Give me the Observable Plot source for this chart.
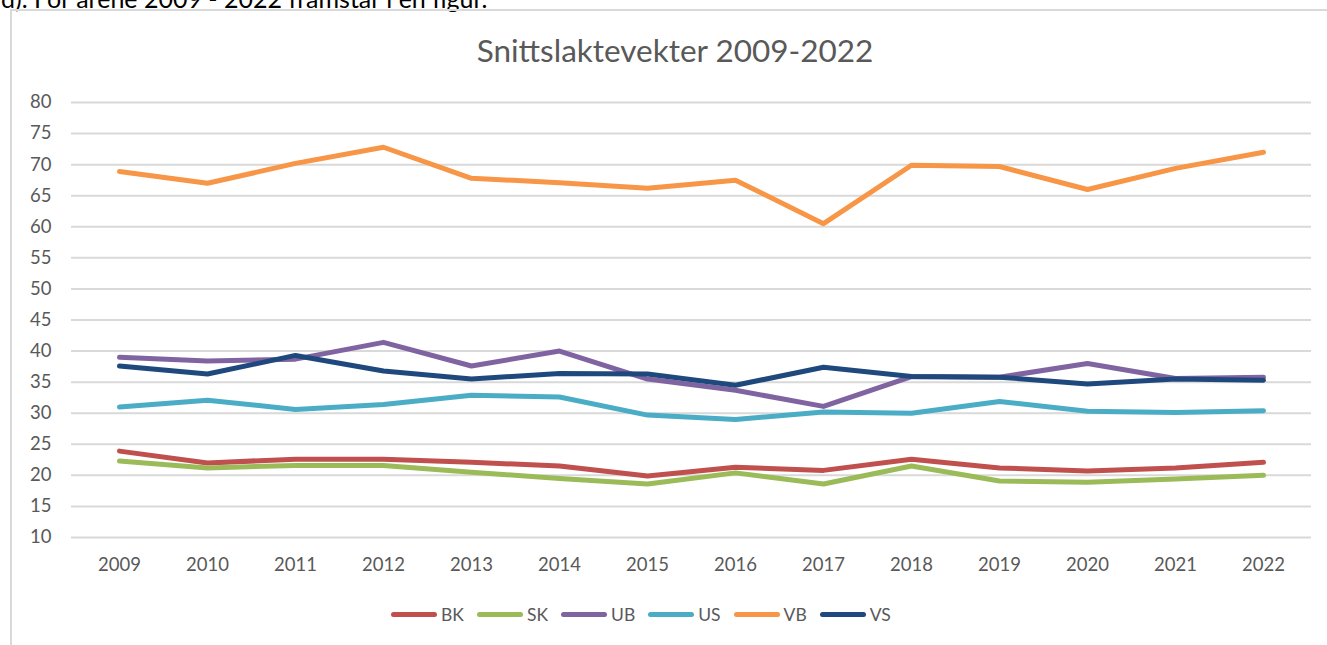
<!DOCTYPE html>
<html>
<head>
<meta charset="utf-8">
<script src="https://cdn.jsdelivr.net/npm/d3@7"></script>
<script src="https://cdn.jsdelivr.net/npm/@observablehq/plot@0.6"></script>
<style>
  html, body { margin: 0; padding: 0; background: #fff; overflow: hidden; }
  #wrap { position: relative; width: 1327px; height: 645px; font-family: Lato, "Open Sans", sans-serif; }
  #above { position: absolute; left: 1px; top: -17px; font-size: 25px; color: #000; white-space: nowrap; font-family: Lato, sans-serif; }
  #frame { position: absolute; left: 10px; top: 9px; width: 1330px; height: 650px; border: 2px solid #d9d9d9; box-sizing: border-box; }
  #title { position: absolute; left: 0; width: 1350px; top: 31px; text-align: center; font-size: 31.5px; color: #595959; }
  #chart { position: absolute; left: 0; top: 0; }
  #legend { position: absolute; left: 391px; top: 604px; display: flex; font-size: 17.5px; color: #595959; }
  .item { display: flex; align-items: center; margin-right: 13px; }
  .swatch { width: 46px; height: 5px; border-radius: 3px; margin-right: 4px; }
</style>
</head>
<body>
<div id="wrap">
  <div id="above">d). For årene 2009 - 2022 framstår i en figur.</div>
  <div id="frame"></div>
  <div id="title">Snittslaktevekter 2009-2022</div>
  <div id="chart"></div>
  <div id="legend"></div>
</div>
<script>
const years = [2009, 2010, 2011, 2012, 2013, 2014, 2015, 2016, 2017, 2018, 2019, 2020, 2021, 2022];
const seriesNames = ["BK", "SK", "UB", "US", "VB", "VS"];
const seriesColors = ["#C0504D", "#9BBB59", "#8064A2", "#4BACC6", "#F79646", "#1F497D"];
const bk = [23.9, 22.0, 22.6, 22.6, 22.1, 21.5, 19.9, 21.3, 20.8, 22.6, 21.2, 20.7, 21.2, 22.1];
const sk = [22.3, 21.2, 21.6, 21.6, 20.5, 19.5, 18.6, 20.4, 18.6, 21.5, 19.1, 18.9, 19.4, 20.0];
const ub = [39.0, 38.4, 38.7, 41.4, 37.6, 40.0, 35.5, 33.7, 31.1, 35.9, 35.8, 38.0, 35.6, 35.8];
const us = [31.0, 32.1, 30.6, 31.4, 32.9, 32.6, 29.7, 29.0, 30.2, 30.0, 31.9, 30.3, 30.1, 30.4];
const vb = [68.9, 67.0, 70.2, 72.8, 67.8, 67.1, 66.2, 67.5, 60.5, 69.9, 69.7, 66.0, 69.4, 72.0];
const vs = [37.6, 36.3, 39.3, 36.8, 35.5, 36.4, 36.3, 34.5, 37.4, 35.9, 35.8, 34.7, 35.5, 35.3];
const yTicks = [10, 15, 20, 25, 30, 35, 40, 45, 50, 55, 60, 65, 70, 75, 80];

const seriesValues = [bk, sk, ub, us, vb, vs];
const data = [];
seriesNames.forEach((name, i) => {
  years.forEach((yr, j) => data.push({ series: name, year: String(yr), value: seriesValues[i][j] }));
});

const chart = Plot.plot({
  width: 1327,
  height: 600,
  marginLeft: 71,
  marginRight: 16,
  marginTop: 102,
  marginBottom: 63,
  style: { fontFamily: "Lato, 'Open Sans', sans-serif", fontSize: "18px", color: "#595959", background: "transparent" },
  x: { type: "point", domain: years.map(String), padding: 0.5, label: null },
  y: { domain: [10, 80], ticks: yTicks, label: null },
  color: { domain: seriesNames, range: seriesColors },
  marks: [
    Plot.gridY(yTicks, { stroke: "#d9d9d9", strokeOpacity: 1, strokeWidth: 2 }),
    Plot.axisY(yTicks, { tickSize: 0, tickPadding: 20, fill: "#595959", fontSize: 18.5, label: null }),
    Plot.axisX({ tickSize: 0, tickPadding: 20, fill: "#595959", fontSize: 18.5, label: null }),
    Plot.line(data, { x: "year", y: "value", z: "series", stroke: "series", strokeWidth: 5, strokeLinejoin: "round", strokeLinecap: "round" })
  ]
});
document.getElementById("chart").appendChild(chart);

const legend = document.getElementById("legend");
seriesNames.forEach((name, i) => {
  const item = document.createElement("div");
  item.className = "item";
  const sw = document.createElement("div");
  sw.className = "swatch";
  sw.style.background = seriesColors[i];
  const lab = document.createElement("span");
  lab.textContent = name;
  item.appendChild(sw);
  item.appendChild(lab);
  legend.appendChild(item);
});
</script>
</body>
</html>
